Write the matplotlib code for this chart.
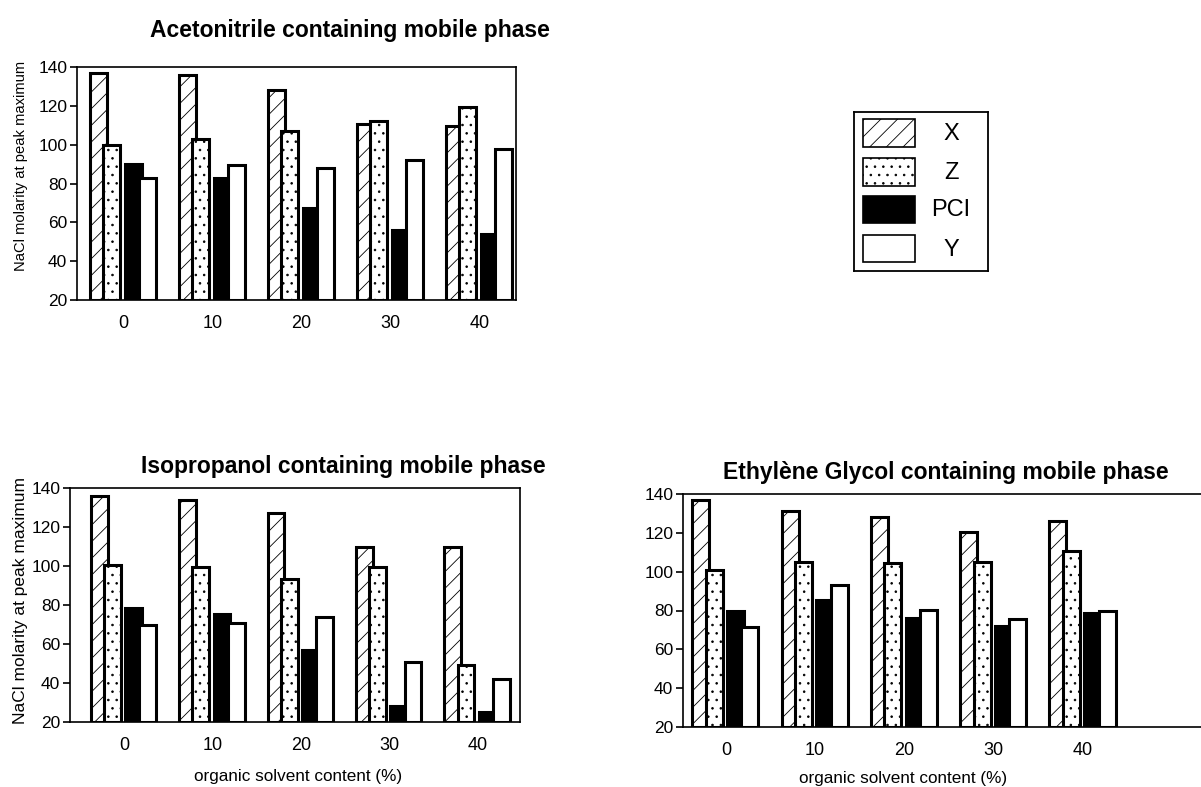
import matplotlib
matplotlib.use("Agg")
import matplotlib.pyplot as plt
from matplotlib.patches import Rectangle
import numpy as np

# ---- data ----
categories = ["0", "10", "20", "30", "40"]
series = ["X", "Z", "PCI", "Y"]

aceto_X = [137, 136, 128, 110.5, 109.5]
aceto_Z = [100, 103, 107, 112, 119.5]
aceto_PCI = [90, 83, 67.5, 56, 54]
aceto_Y = [83, 89.5, 88, 92, 98]

iso_X = [136, 134, 127, 110, 110]
iso_Z = [100.5, 99.5, 93.5, 99.5, 49]
iso_PCI = [78.5, 75.5, 57, 28, 25]
iso_Y = [70, 71, 74, 51, 42]

eg_X = [137, 131, 128, 120.5, 126]
eg_Z = [101, 105, 104.5, 105, 110.5]
eg_PCI = [80, 85.5, 76, 72, 78.5]
eg_Y = [71.5, 93, 80.5, 75.5, 79.5]

yticks = [20, 40, 60, 80, 100, 120, 140]

titles = ["Acetonitrile containing mobile phase",
          "Isopropanol containing mobile phase",
          "Ethylène Glycol containing mobile phase"]
ylabel = "NaCl molarity at peak maximum"
xlabel = "organic solvent content (%)"

# ---- style ----
FONT = ["Liberation Sans", "DejaVu Sans"]
plt.rcParams["hatch.linewidth"] = 0.6
styles = {
    "X": dict(facecolor="white", hatch="//"),
    "Z": dict(facecolor="white", hatch=".."),
    "PCI": dict(facecolor="black", hatch=None),
    "Y": dict(facecolor="white", hatch=None),
}
offsets = [-0.28, -0.13, 0.11, 0.27]
width = 0.19

W, H = 1201, 787
fig = plt.figure(figsize=(W / 100, H / 100), dpi=100)


def px_axes(l, t, r, b):
    return fig.add_axes([l / W, 1 - b / H, (r - l) / W, (b - t) / H])


def draw(ax, data, xlim):
    x = np.arange(len(categories))
    for off, name, vals in zip(offsets, series, data):
        base = 20
        ax.bar(x + off, np.array(vals) - base, width, bottom=base,
               edgecolor="black", linewidth=2.2, **styles[name])
    ax.set_xlim(*xlim)
    ax.set_ylim(20, 140)
    ax.set_yticks(yticks)
    ax.set_yticklabels([str(v) for v in yticks], family=FONT, fontsize=12.5)
    ax.set_xticks(x)
    ax.set_xticklabels(categories, family=FONT, fontsize=13)
    ax.tick_params(axis="x", length=0, pad=11)
    ax.tick_params(axis="y", direction="out", length=5, width=1.2, pad=2)
    for s in ax.spines.values():
        s.set_linewidth(1.2)


def place_ylabel(ax, l, t, r, b, cx, cy, size):
    ax.set_ylabel(ylabel, family=FONT, fontsize=size)
    ax.yaxis.set_label_coords((cx - l) / (r - l), (b - cy) / (b - t))
    ax.yaxis.label.set_verticalalignment("center")


def place_xlabel(ax, l, t, r, b, cx, cy, size):
    ax.set_xlabel(xlabel, family=FONT, fontsize=size)
    ax.xaxis.set_label_coords((cx - l) / (r - l), (b - cy) / (b - t))
    ax.xaxis.label.set_verticalalignment("center")


box1 = (77, 67, 516, 300)
ax1 = px_axes(*box1)
draw(ax1, [aceto_X, aceto_Z, aceto_PCI, aceto_Y], (-0.52, 4.41))
place_ylabel(ax1, *box1, 21, 166, 10.6)

box2 = (70, 488, 520, 722)
ax2 = px_axes(*box2)
draw(ax2, [iso_X, iso_Z, iso_PCI, iso_Y], (-0.61, 4.48))
place_ylabel(ax2, *box2, 21, 600, 12.5)
place_xlabel(ax2, *box2, 298, 776, 12.3)

box3 = (683, 494, 1216, 727)
ax3 = px_axes(*box3)
draw(ax3, [eg_X, eg_Z, eg_PCI, eg_Y], (-0.48, 5.49))
place_xlabel(ax3, *box3, 903, 778, 12.3)

# titles
for (cx, cy), t in zip([(350, 30), (343, 467), (946, 472)], titles):
    fig.text(cx / W, 1 - cy / H, t, family=FONT, fontsize=16.5,
             fontweight="bold", ha="center", va="center")

# legend box
lax = px_axes(854, 112, 988, 271)
lax.set_xlim(854, 988)
lax.set_ylim(271, 112)
lax.set_xticks([])
lax.set_yticks([])
for s in lax.spines.values():
    s.set_linewidth(1.3)
patch_rows = [(119, 147), (158, 186), (196, 223), (235, 262)]
for name, (t, b) in zip(series, patch_rows):
    lax.add_patch(Rectangle((863, t), 52, b - t, edgecolor="black",
                            linewidth=1.2, **styles[name]))
    lax.text(951, (t + b) / 2 + 1, name, ha="center", va="center",
             fontsize=17, family=FONT)

fig.savefig("out.png", dpi=100)
